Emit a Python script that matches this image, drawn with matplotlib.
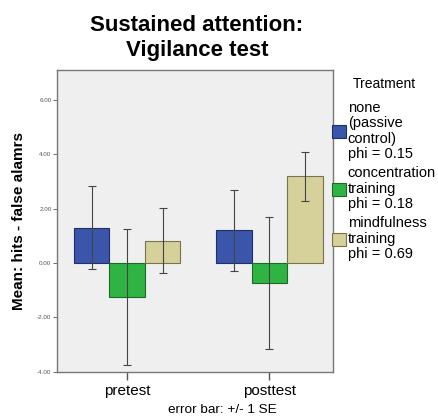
import matplotlib.pyplot as plt
import numpy as np

# data
phases = ['pretest', 'posttest']
groups = ['none\n(passive\ncontrol)\nphi = 0.15',
          'concentration\ntraining\nphi = 0.18',
          'mindfulness\ntraining\nphi = 0.69']
means_none = [1.30, 1.20]
means_conc = [-1.25, -0.74]
means_mind = [0.81, 3.19]
se_none = [1.53, 1.50]
se_conc = [2.50, 2.42]
se_mind = [1.20, 0.90]
colors = ['#3b55aa', '#2fb443', '#d6d09a']
edges = ['#1f2f6a', '#1c6a27', '#77734e']

plt.rcParams['font.family'] = ['Liberation Sans', 'DejaVu Sans']

fig = plt.figure(figsize=(4.38, 4.17), dpi=100)
ax = fig.add_axes([57 / 438, 1 - 371.5 / 417, 276 / 438, 301.5 / 417])
ax.set_facecolor('#efefef')

x = np.array([0.0, 1.0])
w = 0.25
all_means = [means_none, means_conc, means_mind]
all_se = [se_none, se_conc, se_mind]
for i in range(3):
    pos = x + (i - 1) * w
    ax.bar(pos, all_means[i], width=w, color=colors[i], edgecolor=edges[i],
           linewidth=0.8, label=groups[i], zorder=2)
    ax.errorbar(pos, all_means[i], yerr=all_se[i], fmt='none', ecolor='#444444',
                elinewidth=0.8, capsize=3, capthick=0.8, zorder=3)

ax.set_xlim(-0.493, 1.448)
ax.set_ylim(-4, 7.1)
ax.set_xticks(x)
ax.set_xticklabels(phases, fontsize=11)
ax.set_yticks([-4, -2, 0, 2, 4, 6])
ax.set_yticklabels(['-4.00', '-2.00', '0.00', '2.00', '4.00', '6.00'],
                   fontsize=4.5, color='#555555')
ax.tick_params(axis='y', length=3, width=0.6, color='#555555', pad=1)
ax.tick_params(axis='x', length=6, width=1, color='#555555', pad=3)
for s in ax.spines.values():
    s.set_color('#777777')
    s.set_linewidth(1)

ax.set_ylabel('Mean: hits - false alamrs', fontsize=11, fontweight='bold', labelpad=8)

fig.text(197 / 438, 1 - 38 / 417, 'Sustained attention:\nVigilance test', ha='center',
         va='center', fontsize=16, fontweight='bold', linespacing=1.25)
fig.text(222 / 438, 1 - 410 / 417, 'error bar: +/- 1 SE', ha='center', va='center',
         fontsize=9.7)
fig.text(353 / 438, 1 - 84 / 417, 'Treatment', ha='left', va='center', fontsize=10)

leg = ax.legend(loc='upper left', bbox_to_anchor=(0.995, 0.897), frameon=False,
                fontsize=10.5, handlelength=1.0, handleheight=1.0, handletextpad=0.1,
                labelspacing=0.35, borderaxespad=0, borderpad=0)
for t in leg.get_texts():
    t.set_linespacing(1.13)

fig.savefig('out.png', dpi=100)
